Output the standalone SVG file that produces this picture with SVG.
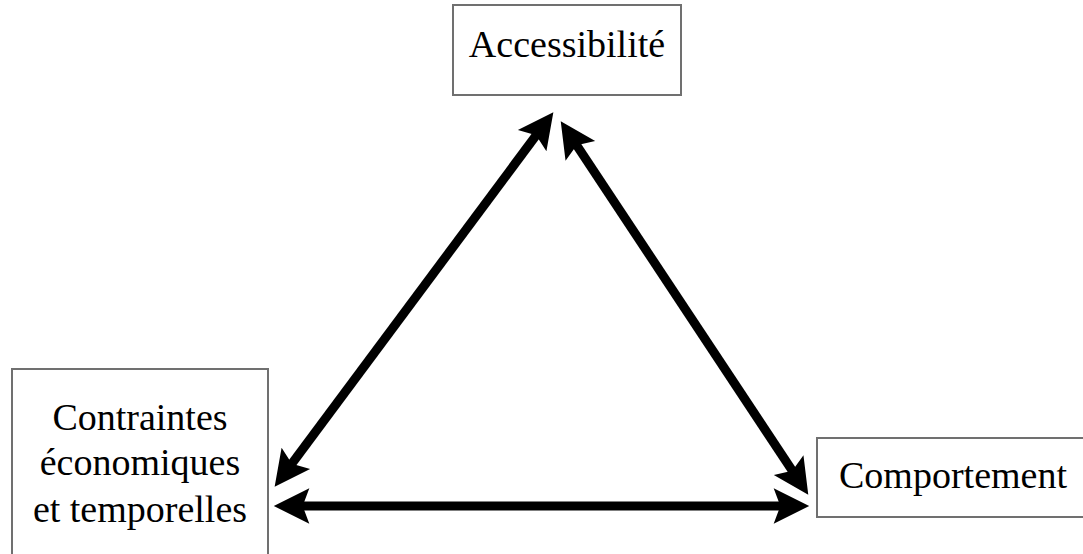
<svg xmlns="http://www.w3.org/2000/svg" width="1083" height="554" viewBox="0 0 1083 554">
<style>
.box{fill:#fff;stroke:#707070;stroke-width:2}
.lbl{font-family:"Liberation Serif","Times New Roman",serif;font-size:38px;fill:#000;text-anchor:middle}
.arr{stroke:#000;stroke-width:9;fill:none;marker-start:url(#head);marker-end:url(#head)}
</style>
<defs>
<marker id="head" markerUnits="userSpaceOnUse" markerWidth="40" markerHeight="40" viewBox="0 -18 34 36" refX="12" refY="0" orient="auto-start-reverse">
<path d="M0,-16 L32,0 L0,16 L6,0 Z" fill="#000"/>
</marker>
</defs>
<rect width="1083" height="554" fill="#fff"/>
<g id="connectors">
<line class="arr" x1="287.9" y1="469" x2="540.1" y2="130"/>
<line class="arr" x1="573" y1="139.7" x2="796" y2="476.3"/>
<line class="arr" x1="296" y1="506" x2="787" y2="506"/>
</g>
<g id="node-accessibilite">
<rect class="box" x="453" y="5" width="228" height="90"/>
<text class="lbl" x="567" y="57">Accessibilité</text>
</g>
<g id="node-contraintes">
<rect class="box" x="12" y="369" width="256" height="190"/>
<text class="lbl" x="140" y="430">Contraintes</text>
<text class="lbl" x="140" y="475">économiques</text>
<text class="lbl" x="140" y="522">et temporelles</text>
</g>
<g id="node-comportement">
<rect class="box" x="817" y="438" width="280" height="79"/>
<text class="lbl" x="953" y="488">Comportement</text>
</g>
</svg>
